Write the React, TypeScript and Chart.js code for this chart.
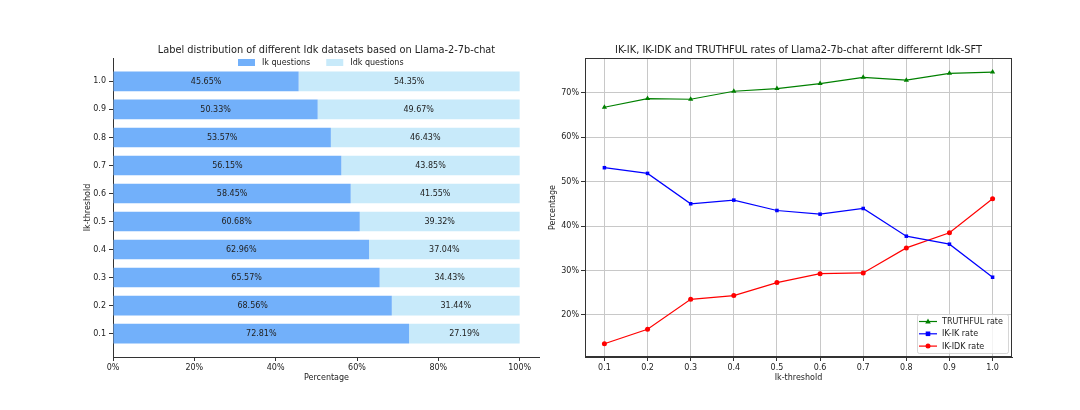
import React, { useEffect, useRef } from "react";
import { Chart, registerables } from "chart.js";

Chart.register(...registerables);

// ---------- data ----------
const thresholds = [0.1, 0.2, 0.3, 0.4, 0.5, 0.6, 0.7, 0.8, 0.9, 1.0];
const ikShare = [72.81, 68.56, 65.57, 62.96, 60.68, 58.45, 56.15, 53.57, 50.33, 45.65];
const idkShare = [27.19, 31.44, 34.43, 37.04, 39.32, 41.55, 43.85, 46.43, 49.67, 54.35];
const pctTicks = [0, 20, 40, 60, 80, 100];

const truthfulRate = [66.77, 68.72, 68.57, 70.38, 70.98, 72.1, 73.5, 72.86, 74.4, 74.7];
const ikIkRate = [53.16, 51.88, 45.04, 45.86, 43.53, 42.7, 43.98, 37.74, 35.94, 28.5];
const ikIdkRate = [13.53, 16.77, 23.53, 24.36, 27.3, 29.3, 29.47, 35.1, 38.5, 46.17];
const rateTicks = [20, 30, 40, 50, 60, 70];

const leftTitle = "Label distribution of different Idk datasets based on Llama-2-7b-chat";
const rightTitle = "IK-IK, IK-IDK and TRUTHFUL rates of Llama2-7b-chat after differernt Idk-SFT";

// ---------- styles ----------
const FAMILY = "'DejaVu Sans', sans-serif";
const TEXT = "#222222";
const SPINE = "#333333";
const IK_COLOR = "#72B0FA";
const IDK_COLOR = "#C8EAFA";
const GREEN = "#008000";
const BLUE = "#0000FF";
const RED = "#FF0000";

const tickFont = { family: FAMILY, size: 8 };

const leftDecor = {
  id: "leftDecor",
  afterDatasetsDraw(chart: any) {
    const ctx = chart.ctx;
    ctx.save();
    ctx.font = `8px ${FAMILY}`;
    ctx.fillStyle = TEXT;
    ctx.textAlign = "center";
    ctx.textBaseline = "middle";
    chart.data.datasets.forEach((ds: any, di: number) => {
      const meta = chart.getDatasetMeta(di);
      meta.data.forEach((el: any, i: number) => {
        const v = ds.data[i].x;
        const cx = (el.x + el.base) / 2;
        ctx.fillText(`${v.toFixed(2)}%`, cx, el.y + 0.5);
      });
    });
    ctx.restore();
  },
  afterDraw(chart: any) {
    const ctx = chart.ctx;
    const a = chart.chartArea;
    ctx.save();
    ctx.fillStyle = TEXT;
    ctx.font = `9.8px ${FAMILY}`;
    ctx.textAlign = "center";
    ctx.textBaseline = "middle";
    ctx.fillText(leftTitle, (a.left + a.right) / 2, 50);
    // legend
    ctx.font = `8px ${FAMILY}`;
    ctx.textAlign = "left";
    const items = chart.data.datasets.map((d: any) => ({ label: d.label, color: d.backgroundColor }));
    let x = 238;
    const y = 62.5;
    items.forEach((it: any) => {
      ctx.fillStyle = it.color;
      ctx.fillRect(x, y - 3.5, 17, 7);
      ctx.fillStyle = TEXT;
      ctx.fillText(it.label, x + 24, y);
      x += 24 + ctx.measureText(it.label).width + 16;
    });
    ctx.restore();
  },
};

const rightDecor = {
  id: "rightDecor",
  afterDraw(chart: any) {
    const ctx = chart.ctx;
    const a = chart.chartArea;
    ctx.save();
    // frame
    ctx.strokeStyle = SPINE;
    ctx.lineWidth = 1;
    ctx.strokeRect(Math.round(a.left) + 0.5, Math.round(a.top) + 0.5, Math.round(a.right - a.left) - 1, Math.round(a.bottom - a.top) - 1);
    // title
    ctx.fillStyle = TEXT;
    ctx.font = `9.8px ${FAMILY}`;
    ctx.textAlign = "center";
    ctx.textBaseline = "middle";
    ctx.fillText(rightTitle, (a.left + a.right) / 2, 50);
    // legend box
    const bw = 91, bh = 39;
    const bx = a.right - 4 - bw;
    const by = a.bottom - 4 - bh;
    ctx.globalAlpha = 0.8;
    ctx.fillStyle = "#ffffff";
    ctx.strokeStyle = "#cccccc";
    ctx.beginPath();
    (ctx as any).roundRect(bx + 0.5, by + 0.5, bw, bh, 2);
    ctx.fill();
    ctx.stroke();
    ctx.globalAlpha = 1;
    ctx.font = `8px ${FAMILY}`;
    ctx.textAlign = "left";
    chart.data.datasets.forEach((d: any, i: number) => {
      const yy = by + 7.5 + i * 12.3;
      ctx.strokeStyle = d.borderColor;
      ctx.lineWidth = 1.2;
      ctx.beginPath();
      ctx.moveTo(bx + 2, yy);
      ctx.lineTo(bx + 20, yy);
      ctx.stroke();
      ctx.fillStyle = d.borderColor;
      const mx = bx + 11;
      ctx.beginPath();
      if (d.pointStyle === "triangle") {
        ctx.moveTo(mx, yy - 3);
        ctx.lineTo(mx + 2.8, yy + 2);
        ctx.lineTo(mx - 2.8, yy + 2);
        ctx.closePath();
      } else if (d.pointStyle === "rect") {
        ctx.rect(mx - 2.3, yy - 2.3, 4.6, 4.6);
      } else {
        ctx.arc(mx, yy, 2.5, 0, Math.PI * 2);
      }
      ctx.fill();
      ctx.fillStyle = TEXT;
      ctx.fillText(d.label, bx + 25, yy + 0.5);
    });
    ctx.restore();
  },
};

function LeftChart() {
  const ref = useRef<HTMLCanvasElement>(null);
  useEffect(() => {
    if (!ref.current) return;
    const chart = new Chart(ref.current, {
      type: "bar",
      data: {
        datasets: [
          {
            label: "Ik questions",
            data: thresholds.map((t, i) => ({ x: ikShare[i], y: t })),
            backgroundColor: IK_COLOR,
            barPercentage: 0.7,
            categoryPercentage: 1,
          },
          {
            label: "Idk questions",
            data: thresholds.map((t, i) => ({ x: idkShare[i], y: t })),
            backgroundColor: IDK_COLOR,
            barPercentage: 0.7,
            categoryPercentage: 1,
          },
        ],
      } as any,
      options: {
        indexAxis: "y",
        animation: false,
        responsive: false,
        layout: { padding: { left: 83, right: 0, top: 58, bottom: 27 } },
        plugins: { legend: { display: false }, title: { display: false }, tooltip: { enabled: false } },
        scales: {
          x: {
            type: "linear",
            stacked: true,
            min: 0,
            max: 105,
            afterBuildTicks: (s: any) => {
              s.ticks = pctTicks.map((v) => ({ value: v }));
            },
            afterFit: (s: any) => {
              s.height = 26;
            },
            ticks: { callback: (v: any) => `${v}%`, font: tickFont, color: TEXT, padding: 2, maxRotation: 0, autoSkip: false },
            grid: { drawOnChartArea: false, tickLength: 4, tickColor: SPINE },
            border: { color: SPINE, width: 1 },
            title: { display: true, text: "Percentage", font: tickFont, color: TEXT, padding: 0 },
          },
          y: {
            type: "linear",
            stacked: true,
            offset: false,
            min: 0.0165,
            max: 1.0835,
            afterBuildTicks: (s: any) => {
              s.ticks = thresholds.map((v) => ({ value: v }));
            },
            afterFit: (s: any) => {
              s.width = 30;
            },
            ticks: { callback: (v: any) => Number(v).toFixed(1), font: tickFont, color: TEXT, padding: 3, autoSkip: false },
            grid: { drawOnChartArea: false, offset: false, tickLength: 4, tickColor: SPINE },
            border: { color: SPINE, width: 1 },
            title: { display: true, text: "Ik-threshold", font: tickFont, color: TEXT, padding: 0 },
          },
        },
      } as any,
      plugins: [leftDecor],
    });
    return () => chart.destroy();
  }, []);
  return <canvas ref={ref} width={540} height={410} style={{ display: "block", width: 540, height: 410 }} />;
}

function RightChart() {
  const ref = useRef<HTMLCanvasElement>(null);
  useEffect(() => {
    if (!ref.current) return;
    const mk = (label: string, values: number[], color: string, style: string) => ({
      label,
      data: thresholds.map((t, i) => ({ x: t, y: values[i] })),
      borderColor: color,
      backgroundColor: color,
      borderWidth: 1.2,
      pointStyle: style,
      pointRadius: style === "triangle" ? 3 : 2.5,
      pointBorderWidth: 0,
      tension: 0,
    });
    const chart = new Chart(ref.current, {
      type: "line",
      data: {
        datasets: [
          mk("TRUTHFUL rate", truthfulRate, GREEN, "triangle"),
          mk("IK-IK rate", ikIkRate, BLUE, "rect"),
          mk("IK-IDK rate", ikIdkRate, RED, "circle"),
        ],
      } as any,
      options: {
        animation: false,
        responsive: false,
        layout: { padding: { left: 8, right: 68, top: 58, bottom: 27 } },
        plugins: { legend: { display: false }, title: { display: false }, tooltip: { enabled: false } },
        scales: {
          x: {
            type: "linear",
            min: 0.055,
            max: 1.045,
            afterBuildTicks: (s: any) => {
              s.ticks = thresholds.map((v) => ({ value: v }));
            },
            afterFit: (s: any) => {
              s.height = 26;
            },
            ticks: { callback: (v: any) => Number(v).toFixed(1), font: tickFont, color: TEXT, padding: 2, maxRotation: 0, autoSkip: false },
            grid: { color: "#c8c8c8", lineWidth: 1, tickLength: 4, tickColor: SPINE },
            border: { color: SPINE, width: 1 },
            title: { display: true, text: "Ik-threshold", font: tickFont, color: TEXT, padding: 0 },
          },
          y: {
            type: "linear",
            min: 10.54,
            max: 77.86,
            afterBuildTicks: (s: any) => {
              s.ticks = rateTicks.map((v) => ({ value: v }));
            },
            afterFit: (s: any) => {
              s.width = 37;
            },
            ticks: { callback: (v: any) => `${v}%`, font: tickFont, color: TEXT, padding: 2, autoSkip: false },
            grid: { color: "#c8c8c8", lineWidth: 1, tickLength: 4, tickColor: SPINE },
            border: { color: SPINE, width: 1 },
            title: { display: true, text: "Percentage", font: tickFont, color: TEXT, padding: 0 },
          },
        },
      } as any,
      plugins: [rightDecor],
    });
    return () => chart.destroy();
  }, []);
  return <canvas ref={ref} width={540} height={410} style={{ display: "block", width: 540, height: 410 }} />;
}

export default function App() {
  return (
    <div style={{ position: "fixed", left: 0, top: 0, width: 1080, height: 410, display: "flex", background: "#ffffff" }}>
      <LeftChart />
      <RightChart />
    </div>
  );
}
